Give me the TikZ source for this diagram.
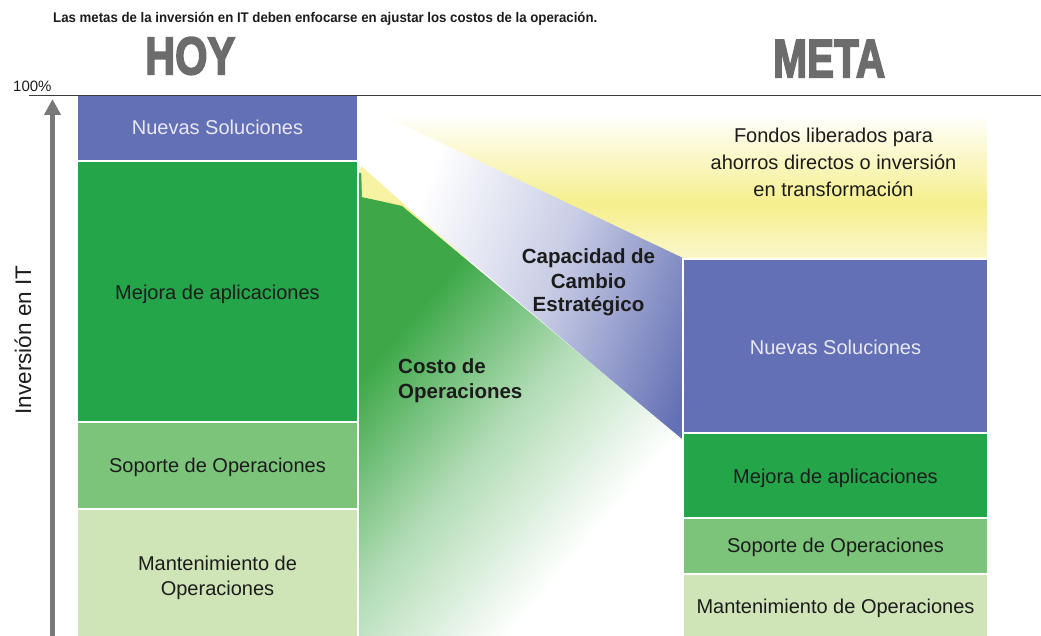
\documentclass[tikz,border=0pt]{standalone}
\usepackage{fontspec}
\setmainfont{Liberation Sans}
\newfontfamily\titlefont[FakeStretch=0.945]{Liberation Sans}
\newfontfamily\heavyfont[FakeBold=3.5]{Liberation Sans}
\usepackage{graphicx}
\usetikzlibrary{arrows.meta}
\definecolor{blueC}{RGB}{100,112,181}
\definecolor{greenC}{RGB}{37,165,74}
\definecolor{supC}{RGB}{123,196,122}
\definecolor{manC}{RGB}{207,229,183}
\definecolor{yelS}{RGB}{246,239,140}
\definecolor{yelP}{RGB}{251,247,205}
\definecolor{headC}{RGB}{108,108,108}
\definecolor{txtC}{RGB}{28,28,28}
\definecolor{axisC}{RGB}{120,120,120}
\definecolor{greenG}{RGB}{62,168,72}
\definecolor{lineC}{RGB}{60,60,60}
\definecolor{whiteT}{RGB}{232,232,242}
\pgfdeclareverticalshading{yelshade}{100bp}{color(0bp)=(yelP); color(25bp)=(yelP); color(42bp)=(yelS); color(70bp)=(white); color(100bp)=(white)}
\pgfdeclarehorizontalshading{greenshade}{100bp}{color(0bp)=(greenG); color(32bp)=(greenG); color(50bp)=(greenG!40!white); color(68bp)=(white); color(100bp)=(white)}
\pgfdeclarehorizontalshading{blueshade}{100bp}{color(0bp)=(white); color(32bp)=(white); color(55bp)=(blueC!35!white); color(80bp)=(blueC); color(100bp)=(blueC)}
\tikzset{
  boxfill/.style={draw=white, line width=1.5pt},
  lbl/.style={font=\fontsize{20}{24}\selectfont, text=txtC, inner sep=0pt, anchor=base},
  lblw/.style={lbl, text=whiteT},
  bold/.style={font=\fontsize{20.5}{24}\selectfont\bfseries, text=txtC, inner sep=0pt},
}
\begin{document}
\begin{tikzpicture}[x=1pt,y=-1pt]
\useasboundingbox (0,0) rectangle (1041,636);
% yellow background region
\shade[shading=yelshade] (357,97) rectangle (987,259);
% blue wedge
\shade[shading=blueshade, shading angle=-20] (357,103) -- (683,258) -- (683,441) -- (357,165) -- cycle;
% green region
\shade[shading=greenshade, shading angle=-40] (359,173) -- (362,173) -- (362,197) -- (402,206) -- (683,440) -- (683,636) -- (359,636) -- cycle;
\fill[yelS!80!white] (361,166) -- (405,205) -- (362,197) -- cycle;
% left column
\fill[blueC, boxfill] (77,95) rectangle (358,161);
\fill[greenC, boxfill] (77,161) rectangle (358,422);
\fill[supC, boxfill] (77,422) rectangle (358,509);
\fill[manC, boxfill] (77,509) rectangle (358,640);
% right column
\fill[blueC, boxfill] (683,259) rectangle (988,433);
\fill[greenC, boxfill] (683,433) rectangle (988,518);
\fill[supC, boxfill] (683,518) rectangle (988,574);
\fill[manC, boxfill] (683,574) rectangle (988,640);
% top line
\draw[lineC, line width=1.3pt] (29,95.5) -- (1041,95.5);
% axis
\coordinate (axisbot) at (52.5,640);
\coordinate (axistop) at (52.5,99);
\draw[axisC, line width=4.5pt, -{Triangle[width=16pt,length=16pt]}] (axisbot) -- (axistop);
% texts
\node[anchor=base west, inner sep=0pt, font=\titlefont\bfseries\fontsize{14}{16}\selectfont, text=txtC] (title) at (53,23) {Las metas de la inversión en IT deben enfocarse en ajustar los costos de la operación.};
\node[anchor=north west, inner sep=0pt, text=headC] (hoy) at (145,37) {\resizebox{90pt}{37pt}{\heavyfont\bfseries\fontsize{52}{60}\selectfont HOY}};
\node[anchor=north west, inner sep=0pt, text=headC] (meta) at (773,40) {\resizebox{112pt}{37pt}{\heavyfont\bfseries\fontsize{52}{60}\selectfont META}};
\node[anchor=base west, inner sep=0pt, font=\fontsize{15}{18}\selectfont, text=txtC] (pct) at (13,92) {100\%};
\node[anchor=base, inner sep=0pt, rotate=90, font=\fontsize{22.5}{26}\selectfont, text=txtC] (ylabel) at (31,340) {Inversión en IT};
% left column labels
\node[lblw] (ln) at (217.5,135) {Nuevas Soluciones};
\node[lbl] (lm) at (217.5,299) {Mejora de aplicaciones};
\node[lbl] (ls) at (217.5,472) {Soporte de Operaciones};
\node[lbl] (lma) at (217.5,570) {Mantenimiento de};
\node[lbl] (lmb) at (217.5,595) {Operaciones};
% right column labels
\node[lbl] (fa) at (833.5,143) {Fondos liberados para};
\node[lbl] (fb) at (833.5,170) {ahorros directos o inversión};
\node[lbl] (fc) at (833.5,197) {en transformación};
\node[lblw] (rn) at (835.5,354) {Nuevas Soluciones};
\node[lbl] (rm) at (835.5,483) {Mejora de aplicaciones};
\node[lbl] (rs) at (835.5,552) {Soporte de Operaciones};
\node[lbl] (rma) at (835.5,613) {Mantenimiento de Operaciones};
% middle labels
\node[bold, anchor=base] (ca) at (588.5,264) {Capacidad de};
\node[bold, anchor=base] (cb) at (588.5,288) {Cambio};
\node[bold, anchor=base] (cc) at (588.5,312) {Estratégico};
\node[bold, anchor=base west] (oa) at (398,373) {Costo de};
\node[bold, anchor=base west] (ob) at (398,398) {Operaciones};
\end{tikzpicture}
\end{document}
